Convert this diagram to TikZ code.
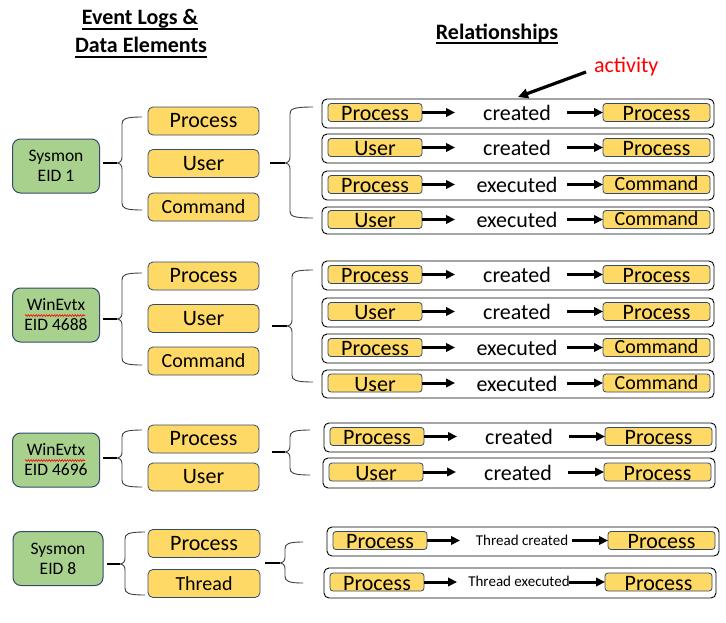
\documentclass[tikz,border=0pt]{standalone}
\usepackage{fontspec}
\setmainfont{Carlito}
\usetikzlibrary{arrows.meta,decorations.pathmorphing}
\definecolor{yfill}{HTML}{FFD966}
\definecolor{gfill}{HTML}{A9D18E}
\definecolor{bord}{HTML}{334A6B}
\newcommand{\fs}[1]{\fontsize{#1}{#1}\selectfont}
\newcommand{\Cmd}{{\fs{20}\raisebox{2pt}{Command}}}
\tikzset{
  every node/.style={inner sep=0pt, outer sep=0pt},
  gbox/.style={draw=bord, line width=1pt, fill=gfill, rounded corners=8pt,
    minimum width=87pt, minimum height=54pt, align=center,
    font=\fontsize{17.5}{20}\selectfont},
  lbox/.style={draw=bord, line width=0.8pt, fill=yfill, rounded corners=5pt,
    minimum width=111pt, minimum height=28pt, text height=13pt, text depth=0pt,
    font=\fs{22}},
  lcmd/.style={lbox, font=\fs{20}},
  outerbox/.style={draw=black, line width=0.9pt, fill=white, rounded corners=5pt,
    minimum width=392pt},
  lbx/.style={draw=bord, line width=0.8pt, fill=yfill, rounded corners=3pt,
    minimum width=94pt, minimum height=18pt, text height=16pt, text depth=0pt,
    font=\fs{22}},
  rbx/.style={lbx, minimum width=107pt},
  verbbig/.style={anchor=base, yshift=-8pt, font=\fs{22}},
  verbsmall/.style={anchor=base, yshift=-4.7pt, font=\fs{15}},
  relarrow/.style={line width=3pt, -{Triangle[length=9pt,width=8.5pt]}},
  actarrow/.style={line width=3.2pt, -{Triangle[length=10pt,width=9.5pt]}},
  bracel/.style={draw=black!75, line width=0.9pt},
  stemline/.style={draw=black, line width=2pt},
  title/.style={font=\bfseries\fs{22}},
  ul/.style={line width=2.2pt},
  squig/.style={draw=red, line width=0.6pt, decorate,
    decoration={snake, amplitude=0.9pt, segment length=2.6pt}}
}
\newcommand{\relrow}[8]{%
  \node[outerbox, minimum height={#4-#3}, anchor=north west] (#1) at (#2,#3) {};
  \node[lbx] (#1l) at ({#2+53},{(#3+#4)/2-1}) {#5};
  \node[rbx] (#1r) at ({#2+334.5},{(#3+#4)/2-1}) {#7};
  \node[#8] (#1v) at ({#2+195},{(#3+#4)/2-1}) {#6};
  \coordinate (#1a) at ({#2+133},{(#3+#4)/2-1});
  \coordinate (#1b) at ({#2+245},{(#3+#4)/2-1});
  \draw[relarrow] (#1l.east) -- (#1a);
  \draw[relarrow] (#1b) -- (#1r.west);
}
\newcommand{\cbrace}[6]{%
  \draw[bracel] (#3,#4) .. controls ({#2+3},#4) and (#2,{#4+2}) .. (#2,{#4+7})
    -- (#2,{#5-6}) .. controls (#2,{#5-2}) and ({#2-2},#5) .. ({#2-6},#5)
    .. controls ({#2-2},#5) and (#2,{#5+2}) .. (#2,{#5+6})
    -- (#2,{#6-7}) .. controls (#2,{#6-2}) and ({#2+3},#6) .. (#3,#6);
  \draw[stemline] (#1,#5) -- ({#2-5},#5);
}
\begin{document}
\begin{tikzpicture}[x=1pt,y=-1pt]
\useasboundingbox[fill=white] (0,0) rectangle (726,622);

% titles
\node[title, anchor=base] (t1) at (140,24) {Event Logs \&};
\node[title, anchor=base] (t2) at (141,52) {Data Elements};
\node[title, anchor=base] (t3) at (497,39) {Relationships};
\draw[ul] ([yshift=-5pt]t1.base west) -- ([yshift=-5pt]t1.base east);
\draw[ul] ([yshift=-5pt]t2.base west) -- ([yshift=-5pt]t2.base east);
\draw[ul] ([yshift=-4pt]t3.base west) -- ([yshift=-4pt]t3.base east);

% ---------- group 1 ----------
\node[gbox] (g1) at (56,166) {Sysmon\\EID 1};
\node[lbox] (g1p) at (203.5,121) {Process};
\node[lbox] (g1u) at (203.5,163.5) {User};
\node[lcmd] (g1c) at (203.5,207) {Command};
\cbrace{103}{122}{142}{117}{163}{210}
\cbrace{270}{290}{313}{107}{163}{218}
\relrow{r11}{322}{99}{128}{Process}{created}{Process}{verbbig}
\relrow{r12}{322}{134}{163}{User}{created}{Process}{verbbig}
\relrow{r13}{322}{171}{200}{Process}{executed}{\Cmd}{verbbig}
\relrow{r14}{322}{207}{234}{User}{executed}{\Cmd}{verbbig}

% activity label
\node[anchor=base west, font=\fs{22}, text=red] (act) at (594,72) {activity};
\draw[actarrow] ([xshift=-8pt]act.base west) -- ([yshift=2pt]r11.north);

% ---------- group 2 ----------
\node[gbox] (g2) at (56,315) {WinEvtx\\EID 4688};
\draw[squig] (25,315.5) -- (85,315.5);
\node[lbox] (g2p) at (203.5,276) {Process};
\node[lbox] (g2u) at (203.5,318.5) {User};
\node[lcmd] (g2c) at (203.5,361) {Command};
\cbrace{103}{122}{142}{273}{319}{365}
\cbrace{272}{292}{313}{270}{326}{382}
\relrow{r21}{322}{261}{290}{Process}{created}{Process}{verbbig}
\relrow{r22}{322}{298}{327}{User}{created}{Process}{verbbig}
\relrow{r23}{322}{334}{363}{Process}{executed}{\Cmd}{verbbig}
\relrow{r24}{322}{370}{398}{User}{executed}{\Cmd}{verbbig}

% ---------- group 3 ----------
\node[gbox] (g3) at (56,460) {WinEvtx\\EID 4696};
\draw[squig] (25,460.5) -- (85,460.5);
\node[lbox] (g3p) at (203.5,439) {Process};
\node[lbox] (g3u) at (203.5,477) {User};
\cbrace{103}{122}{142}{430}{458}{487}
\cbrace{272}{290}{310}{430}{452}{475}
\relrow{r31}{324}{423}{452}{Process}{created}{Process}{verbbig}
\relrow{r32}{323}{458}{488}{User}{created}{Process}{verbbig}

% ---------- group 4 ----------
\node[gbox, minimum width=90pt] (g4) at (58,558.5) {Sysmon\\EID 8};
\node[lbox, minimum width=112pt] (g4p) at (204,543.5) {Process};
\node[lcmd, minimum width=112pt] (g4t) at (204,583.5) {Thread};
\cbrace{107}{125}{145}{532}{564}{595}
\cbrace{265}{285}{303}{542}{563}{583}
\relrow{r41}{327}{527}{556}{Process}{Thread created}{Process}{verbsmall}
\relrow{r42}{324}{568}{598}{Process}{Thread executed}{Process}{verbsmall}
\end{tikzpicture}
\end{document}
